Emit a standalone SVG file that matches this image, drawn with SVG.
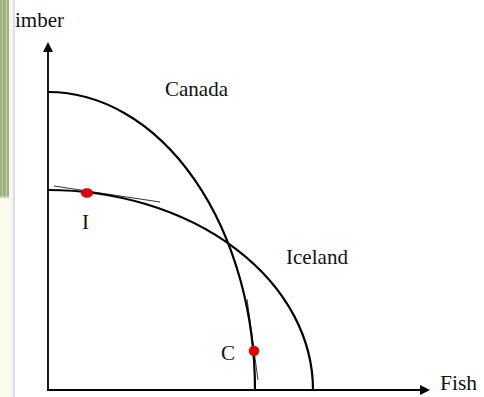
<svg xmlns="http://www.w3.org/2000/svg" width="484" height="397" viewBox="0 0 484 397">
<style>
.t{font-family:"Liberation Serif",serif;font-size:21px;fill:#111}
.curve{fill:none;stroke:#000;stroke-width:2.2}
.tan{fill:none;stroke:#000;stroke-width:0.8}
.axis{fill:none;stroke:#000;stroke-width:1.8}
.pt{fill:#e00000;stroke:#a00;stroke-width:0.5}
</style>
<defs>
<marker id="arr" markerWidth="10" markerHeight="10" refX="8" refY="5" orient="auto" markerUnits="userSpaceOnUse">
<path d="M0,0 L10,5 L0,10 Z" fill="#000"/>
</marker>
</defs>
<rect width="484" height="397" fill="#fff"/>
<g id="sidebar">
<rect x="0" y="0" width="9" height="198" fill="#9db27c"/>
<rect x="2" y="0" width="1" height="196" fill="#b9c99c"/>
<rect x="6" y="0" width="1" height="196" fill="#c7d4ae"/>
<rect x="0" y="196" width="9" height="2" fill="#c9d6b2"/>
<rect x="0" y="198" width="9" height="199" fill="#fbfbee"/>
<rect x="9" y="0" width="4" height="397" fill="#f6f6f2"/>
<rect x="13" y="0" width="2" height="397" fill="#dcdcec"/>
</g>
<g id="connectors">
<line class="axis" x1="48" y1="391" x2="48" y2="44" marker-end="url(#arr)"/>
<line class="axis" x1="47" y1="390" x2="428" y2="390" marker-end="url(#arr)"/>
</g>
<g id="canada">
<path class="curve" d="M48,92 A207,298 0 0 1 255,390"/>
<text class="t" x="165" y="96" textLength="63" lengthAdjust="spacingAndGlyphs">Canada</text>
</g>
<g id="iceland">
<path class="curve" d="M48,190 A265,200 0 0 1 313,390"/>
<text class="t" x="286" y="264" textLength="62" lengthAdjust="spacingAndGlyphs">Iceland</text>
</g>
<g id="point-I">
<line class="tan" x1="54" y1="186" x2="160" y2="202"/>
<ellipse class="pt" cx="87" cy="193" rx="6" ry="4.5"/>
<text class="t" x="82" y="229">I</text>
</g>
<g id="point-C">
<line class="tan" x1="247" y1="299" x2="258" y2="380"/>
<ellipse class="pt" cx="254" cy="351" rx="5" ry="5"/>
<text class="t" x="221" y="360">C</text>
</g>
<g id="labels">
<text class="t" x="15" y="27" textLength="49" lengthAdjust="spacingAndGlyphs">imber</text>
<text class="t" x="440" y="390" textLength="37" lengthAdjust="spacingAndGlyphs">Fish</text>
</g>
</svg>
